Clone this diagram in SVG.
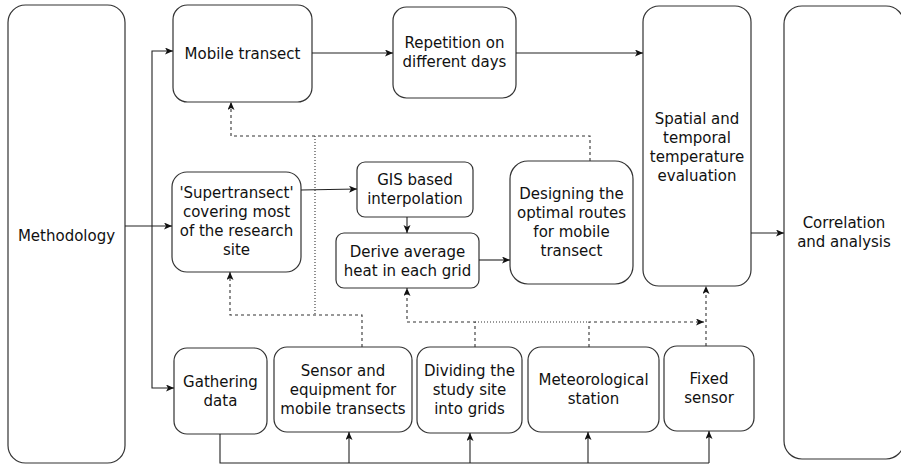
<svg xmlns="http://www.w3.org/2000/svg" width="901" height="464" viewBox="0 0 901 464">
<style>
.box{fill:#fff;stroke:#333;stroke-width:1.2}
.t{font-family:"DejaVu Sans",Verdana,sans-serif;font-size:15px;fill:#111;text-anchor:middle}
.c{fill:none;stroke:#222;stroke-width:1.1}
.d{fill:none;stroke:#333;stroke-width:1.1;stroke-dasharray:3 3}
.p{fill:none;stroke:#333;stroke-width:1.1;stroke-dasharray:1 2}
</style>
<defs>
<marker id="a" markerUnits="userSpaceOnUse" markerWidth="9" markerHeight="8" refX="8" refY="3.5" orient="auto">
<path d="M0,0 L8,3.5 L0,7 L2,3.5 Z" fill="#111"/>
</marker>
</defs>
<rect width="901" height="464" fill="#fff"/>
<g id="methodology"><rect class="box" x="8" y="5" width="117" height="458" rx="17.5"/><text class="t" x="66.5" y="241">Methodology</text></g>
<g id="correlation"><rect class="box" x="784" y="6" width="120" height="453" rx="18"/><text class="t" x="844" y="228">Correlation</text><text class="t" x="844" y="247">and analysis</text></g>
<g id="mobile"><rect class="box" x="173" y="5" width="139" height="97" rx="14.5"/><text class="t" x="242.5" y="59">Mobile transect</text></g>
<g id="repetition"><rect class="box" x="393" y="7" width="123" height="91" rx="13.5"/><text class="t" x="454.5" y="48">Repetition on</text><text class="t" x="454.5" y="67">different days</text></g>
<g id="spatial"><rect class="box" x="643" y="6" width="108" height="280" rx="16"/><text class="t" x="697" y="124">Spatial and</text><text class="t" x="697" y="143">temporal</text><text class="t" x="697" y="162">temperature</text><text class="t" x="697" y="181">evaluation</text></g>
<g id="supertransect"><rect class="box" x="172" y="172" width="129" height="100" rx="15"/><text class="t" x="236.5" y="198">'Supertransect'</text><text class="t" x="236.5" y="217">covering most</text><text class="t" x="236.5" y="236">of the research</text><text class="t" x="236.5" y="255">site</text></g>
<g id="gis"><rect class="box" x="357" y="162" width="116" height="55" rx="8"/><text class="t" x="415" y="185">GIS based</text><text class="t" x="415" y="204">interpolation</text></g>
<g id="derive"><rect class="box" x="336" y="233" width="143" height="55" rx="8"/><text class="t" x="407.5" y="257">Derive average</text><text class="t" x="407.5" y="276">heat in each grid</text></g>
<g id="designing"><rect class="box" x="510" y="161" width="123" height="123" rx="18"/><text class="t" x="571.5" y="199">Designing the</text><text class="t" x="571.5" y="218">optimal routes</text><text class="t" x="571.5" y="237">for mobile</text><text class="t" x="571.5" y="256">transect</text></g>
<g id="gathering"><rect class="box" x="174" y="348" width="93" height="86" rx="13"/><text class="t" x="220.5" y="387">Gathering</text><text class="t" x="220.5" y="406">data</text></g>
<g id="sensor"><rect class="box" x="274" y="347" width="138" height="85" rx="13"/><text class="t" x="343" y="376">Sensor and</text><text class="t" x="343" y="395">equipment for</text><text class="t" x="343" y="414">mobile transects</text></g>
<g id="dividing"><rect class="box" x="417" y="347" width="105" height="86" rx="13"/><text class="t" x="469.5" y="376">Dividing the</text><text class="t" x="469.5" y="395">study site</text><text class="t" x="469.5" y="414">into grids</text></g>
<g id="meteo"><rect class="box" x="528" y="347" width="131" height="85" rx="13"/><text class="t" x="593.5" y="385">Meteorological</text><text class="t" x="593.5" y="404">station</text></g>
<g id="fixed"><rect class="box" x="664" y="346" width="90" height="85" rx="13"/><text class="t" x="709" y="384">Fixed</text><text class="t" x="709" y="403">sensor</text></g>
<g id="connectors">
<path class="c" d="M125,226 H172" marker-end="url(#a)"/>
<path class="c" d="M152,226 V51 H173" marker-end="url(#a)"/>
<path class="c" d="M152,226 V388 H174" marker-end="url(#a)"/>
<path class="c" d="M312,53 H393" marker-end="url(#a)"/>
<path class="c" d="M516,53 H643" marker-end="url(#a)"/>
<path class="c" d="M301,190 L357,189" marker-end="url(#a)"/>
<path class="c" d="M407,217 V233" marker-end="url(#a)"/>
<path class="c" d="M479,260 H510" marker-end="url(#a)"/>
<path class="c" d="M751,233 H784" marker-end="url(#a)"/>
<path class="c" d="M220,434 V463 H709"/>
<path class="c" d="M349,463 V432" marker-end="url(#a)"/>
<path class="c" d="M470,463 V433" marker-end="url(#a)"/>
<path class="c" d="M588,463 V432" marker-end="url(#a)"/>
<path class="c" d="M709,463 V431" marker-end="url(#a)"/>
<path class="d" d="M590,161 V136 H231 V102" marker-end="url(#a)"/>
<path class="p" d="M315,136 V315"/>
<path class="d" d="M362,347 V315 H230 V272" marker-end="url(#a)"/>
<path class="d" d="M475,347 V322 H407 V288" marker-end="url(#a)"/>
<path class="p" d="M475,322 H589"/>
<path class="d" d="M589,347 V322 H704" marker-end="url(#a)"/>
<path class="d" d="M706,346 V286" marker-end="url(#a)"/>
</g>
</svg>
